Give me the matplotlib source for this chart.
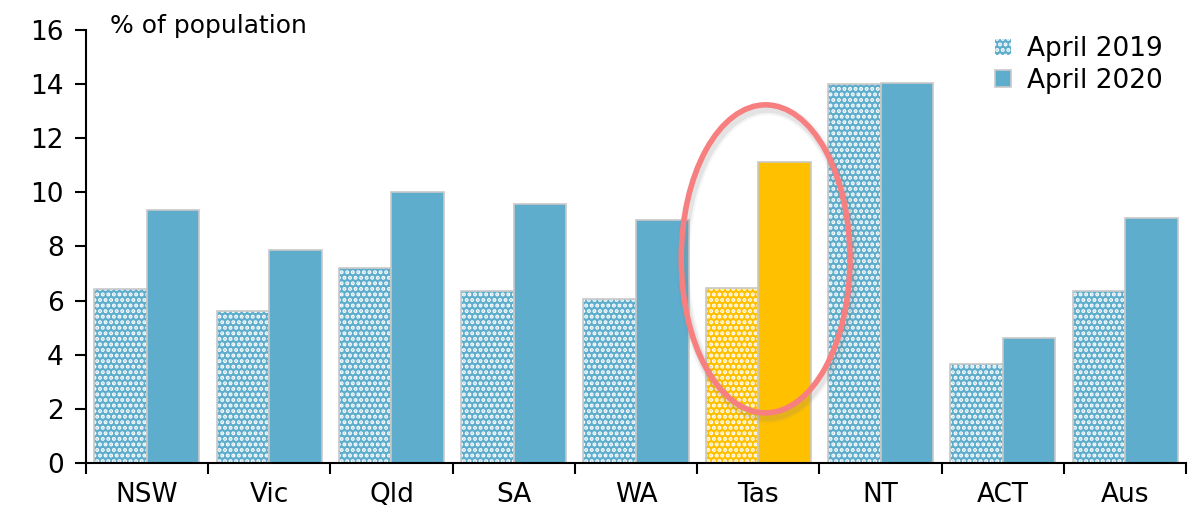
import matplotlib.pyplot as plt
import numpy as np
from matplotlib.patches import Ellipse
from matplotlib.transforms import ScaledTranslation

# share of population by state, April 2019 vs April 2020

states = ["NSW", "Vic", "Qld", "SA", "WA", "Tas", "NT", "ACT", "Aus"]
apr_2019 = [6.43, 5.62, 7.20, 6.36, 6.06, 6.47, 14.00, 3.66, 6.36]
apr_2020 = [9.35, 7.87, 10.00, 9.57, 8.98, 11.12, 14.04, 4.62, 9.05]

blue = "#5eadcc"
gold = "#ffc000"
highlight = "Tas"

plt.rcParams["hatch.linewidth"] = 2.0

fig = plt.figure(figsize=(11.91, 5.15), dpi=100)
ax = fig.add_axes([0.072, 0.101, 0.924, 0.841])

x = np.arange(len(states))
w = 0.43
cols = [gold if s == highlight else blue for s in states]

# dotted bars for 2019, solid for 2020
ax.bar(x - w / 2, apr_2019, w, color=cols, edgecolor="white", hatch="...", linewidth=0)
ax.bar(x - w / 2, apr_2019, w, fill=False, edgecolor="#c8c8c8", linewidth=1.2)
ax.bar(x + w / 2, apr_2020, w, color=cols, edgecolor="#c8c8c8", linewidth=1.2)

# legend proxies
h1 = plt.Rectangle((0, 0), 1, 1, facecolor=blue, edgecolor="white", hatch="...", linewidth=0)
h2 = plt.Rectangle((0, 0), 1, 1, facecolor=blue, edgecolor="#c8c8c8", linewidth=1.2)
ax.legend([h1, h2], ["April 2019", "April 2020"], loc="upper right", frameon=False,
          fontsize=19, handlelength=0.6, handleheight=0.6, handletextpad=0.6,
          labelspacing=0.2, bbox_to_anchor=(1.0, 1.04))

# ring around Tasmania, with a soft shadow
tas = states.index(highlight)
ring_c = (tas + 0.06, 7.54)
shadow = ScaledTranslation(2 / 100, -4 / 100, fig.dpi_scale_trans)
for lw, a in [(9, 0.08), (6, 0.15)]:
    ax.add_patch(Ellipse(ring_c, 1.38, 11.38, fill=False, edgecolor="#808080",
                         linewidth=lw, alpha=a, transform=ax.transData + shadow))
ax.add_patch(Ellipse(ring_c, 1.38, 11.38, fill=False, edgecolor="#f77f80", linewidth=4))

ax.set_xlim(-0.5, len(states) - 0.5)
ax.set_ylim(0, 16)
ax.set_yticks(range(0, 17, 2))
ax.set_xticks(x)
ax.set_xticklabels(states)
ax.set_xticks(np.arange(-0.5, len(states)), minor=True)
ax.tick_params(axis="x", which="major", length=0, pad=14, labelsize=19)
ax.tick_params(axis="x", which="minor", length=8, width=1.5, direction="out")
ax.tick_params(axis="y", length=8, width=1.5, direction="out", labelsize=19, pad=8)

for side in ["top", "right"]:
    ax.spines[side].set_visible(False)
ax.spines["left"].set_linewidth(1.5)
ax.spines["bottom"].set_linewidth(1.5)

ax.text(0.022, 1.01, "% of population", transform=ax.transAxes, fontsize=18, va="center")

fig.savefig("out.png", dpi=100)
